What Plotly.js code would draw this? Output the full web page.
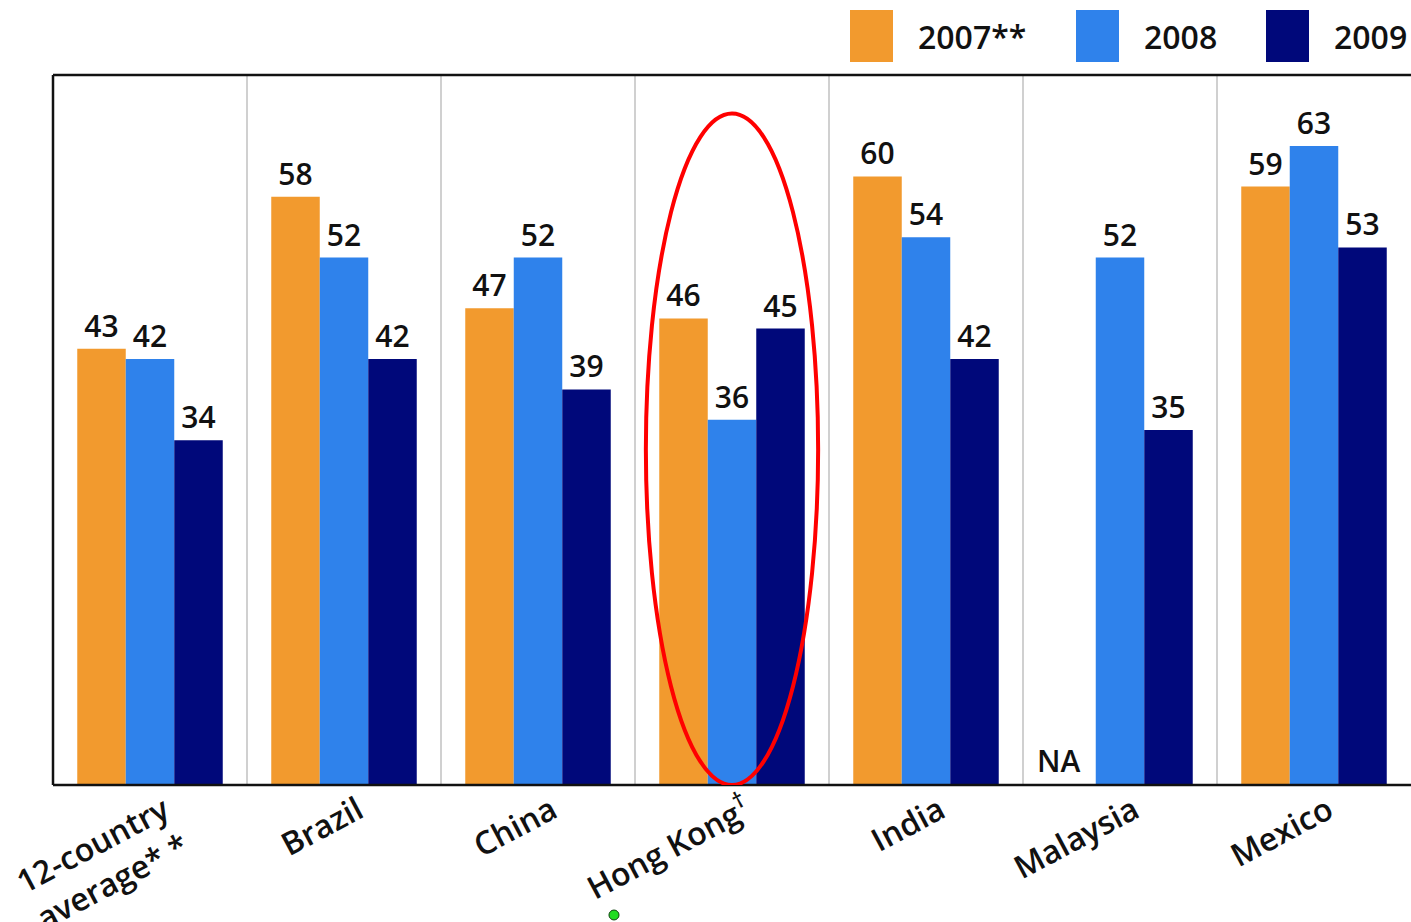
<!DOCTYPE html>
<html><head><meta charset="utf-8">
<script src="https://cdn.plot.ly/plotly-3.0.1.min.js"></script>
<style>html,body{margin:0;padding:0;background:#fff}#c{width:1411px;height:922px}</style>
</head><body><div id="c"></div>
<script>
const categories = ["12-country<br>average* *","Brazil","China","Hong Kong<sup>†</sup>","India","Malaysia","Mexico"];
const seriesNames = ["2007**","2008","2009"];
const v2007 = [43,58,47,46,60,null,59];
const v2008 = [42,52,52,36,54,52,63];
const v2009 = [34,42,39,45,42,35,53];
const colors = ["#F29A2E","#2F82EB","#00087A"];
const FONT = "Open Sans, sans-serif";

const allVals=[v2007,v2008,v2009];
const traces = allVals.map((vals,i)=>({
  type:"bar", name:seriesNames[i], x:categories, y:vals,
  marker:{color:colors[i]},
  text:vals.map(v=>v==null?"":String(v)), textposition:"outside",
  textfont:{family:FONT,size:30,color:"#111",weight:600},
  cliponaxis:false, hoverinfo:"none"
}));

const shapes = [
  {type:"line",xref:"paper",yref:"paper",x0:0,x1:1,y0:1,y1:1,line:{color:"#111",width:2.5}},
  {type:"line",xref:"paper",yref:"paper",x0:0,x1:1,y0:0,y1:0,line:{color:"#111",width:2.5}},
  {type:"line",xref:"paper",yref:"paper",x0:0,x1:0,y0:0,y1:1,line:{color:"#111",width:2.5}},
  {type:"circle",xref:"x",yref:"y",x0:2.556,x1:3.444,y0:0,y1:66.2,line:{color:"#FF0000",width:4}},
  {type:"circle",xref:"paper",yref:"paper",x0:0.4094,x1:0.4168,y0:-0.1901,y1:-0.1761,fillcolor:"#22DD22",line:{color:"#114411",width:1}}
];
const annotations = [
  {xref:"x",yref:"y",x:5,y:0,xshift:-62,yanchor:"bottom",yshift:2,text:"NA",showarrow:false,font:{family:FONT,size:30,color:"#111",weight:600}}
];
// custom legend
const legX=[850,1076,1266], legT=[seriesNames[0],seriesNames[1],seriesNames[2]];
const pw=1358, ph=710, ml=53, mt=75;
legX.forEach((px,i)=>{
  shapes.push({type:"rect",xref:"paper",yref:"paper",x0:(px-ml)/pw,x1:(px+43-ml)/pw,y0:(mt+ph-62)/ph,y1:(mt+ph-10)/ph,fillcolor:colors[i],line:{width:0}});
  annotations.push({xref:"paper",yref:"paper",x:(px+66-ml)/pw,y:(mt+ph-36)/ph,xanchor:"left",yanchor:"middle",text:legT[i],showarrow:false,font:{family:FONT,size:32,color:"#111",weight:600}});
});

const layout = {
  width:1411,height:922,margin:{l:53,r:0,t:75,b:137},
  paper_bgcolor:"#fff",plot_bgcolor:"#fff",
  barmode:"group",bargap:0.25,bargroupgap:0,showlegend:false,
  xaxis:{type:"category",tickson:"boundaries",showgrid:true,gridcolor:"#D0D0D0",gridwidth:1.5,
    ticks:"",tickangle:-28,ticklabelshift:14,ticklabelstandoff:0,
    tickfont:{family:FONT,size:32,color:"#111",weight:600},showline:false,zeroline:false},
  yaxis:{range:[0,70],showticklabels:false,showgrid:false,zeroline:false,ticks:"",showline:false},
  shapes:shapes,annotations:annotations
};
Plotly.newPlot("c",traces,layout,{staticPlot:true});
</script></body></html>
